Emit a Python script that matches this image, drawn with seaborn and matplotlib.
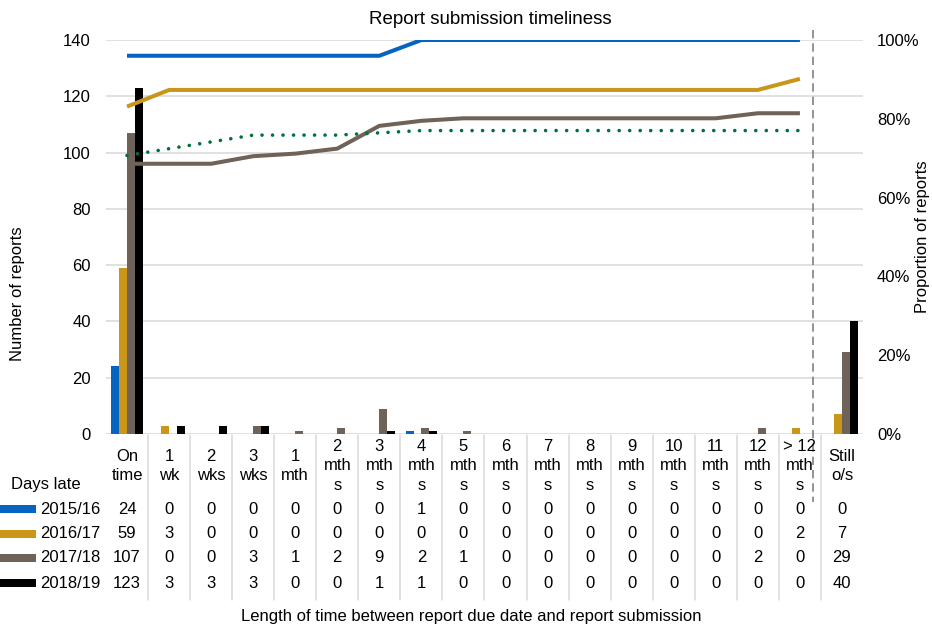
import numpy as np
import pandas as pd
import matplotlib
matplotlib.use("Agg")
import matplotlib.pyplot as plt
import matplotlib.transforms as mtrans
from matplotlib.patches import Rectangle
from matplotlib.lines import Line2D
from matplotlib.ticker import PercentFormatter
import seaborn as sns

# ---------------- data ----------------
categories = ["On\ntime", "1\nwk", "2\nwks", "3\nwks", "1\nmth",
              "2\nmth\ns", "3\nmth\ns", "4\nmth\ns", "5\nmth\ns", "6\nmth\ns",
              "7\nmth\ns", "8\nmth\ns", "9\nmth\ns", "10\nmth\ns", "11\nmth\ns",
              "12\nmth\ns", "> 12\nmth\ns", "Still\no/s"]
years = ["2015/16", "2016/17", "2017/18", "2018/19"]
counts_2015 = [24, 0, 0, 0, 0, 0, 0, 1, 0, 0, 0, 0, 0, 0, 0, 0, 0, 0]
counts_2016 = [59, 3, 0, 0, 0, 0, 0, 0, 0, 0, 0, 0, 0, 0, 0, 0, 2, 7]
counts_2017 = [107, 0, 0, 3, 1, 2, 9, 2, 1, 0, 0, 0, 0, 0, 0, 2, 0, 29]
counts_2018 = [123, 3, 3, 3, 0, 0, 1, 1, 0, 0, 0, 0, 0, 0, 0, 0, 0, 40]
all_counts = [counts_2015, counts_2016, counts_2017, counts_2018]

bar_colors = ["#0563C1", "#C9961A", "#6E6259", "#000000"]
line_colors = ["#0563C1", "#C9961A", "#6E6259", "#00703C"]

# ---------------- style ----------------
sns.set_theme(style="white")
plt.rcParams["font.family"] = ["Liberation Sans", "DejaVu Sans"]
plt.rcParams["text.color"] = "black"
FS = 12

W, H = 932, 626
fig = plt.figure(figsize=(W / 100, H / 100), dpi=100)

def fy(p):
    return 1 - p / H

ax_l, ax_r, ax_t, ax_b = 106, 863, 40, 434
ax = fig.add_axes([ax_l / W, fy(ax_b), (ax_r - ax_l) / W, (ax_b - ax_t) / H])

rows = []
for yr, cnts in zip(years, all_counts):
    for c, v in zip(categories, cnts):
        rows.append({"cat": c, "n": v, "year": yr})
df = pd.DataFrame(rows)

sns.barplot(data=df, x="cat", y="n", hue="year", order=categories,
            hue_order=years, palette=bar_colors, width=0.74, saturation=1,
            linewidth=0, legend=False, ax=ax)

ax.set_ylim(0, 140)
ax.set_yticks(np.arange(0, 141, 20))
ax.yaxis.grid(True, color="#d9d9d9", lw=1.1)
ax.set_axisbelow(True)
ax.set_xlabel("")
ax.set_ylabel("")
ax.set_xticks([])
for s in ax.spines.values():
    s.set_visible(False)
ax.tick_params(axis="y", length=0, pad=11, labelsize=FS, labelcolor="black")

# cumulative proportions (lines)
ax2 = ax.twinx()
n_line = len(categories) - 1
xpos = np.arange(n_line)
for i, (yr, cnts) in enumerate(zip(years, all_counts)):
    cnts = np.array(cnts)
    prop = np.cumsum(cnts[:n_line]) / cnts.sum()
    if i == 3:
        sns.lineplot(x=xpos, y=prop, ax=ax2, color=line_colors[i], lw=2.6,
                     linestyle=(0, (0.01, 2.9)), dash_capstyle="round")
    else:
        sns.lineplot(x=xpos, y=prop, ax=ax2, color=line_colors[i], lw=2.9,
                     solid_capstyle="butt")
ax2.set_ylim(0, 1)
ax2.set_yticks(np.arange(0, 1.01, 0.2))
ax2.yaxis.set_major_formatter(PercentFormatter(1.0, decimals=0))
ax2.tick_params(axis="y", length=0, pad=10, labelsize=FS, labelcolor="black")
for s in ax2.spines.values():
    s.set_visible(False)
ax2.set_ylabel("")
ax.set_xlim(-0.5, len(categories) - 0.5)
ax2.set_xlim(-0.5, len(categories) - 0.5)

# ---------------- table ----------------
tr = mtrans.blended_transform_factory(ax.transData, fig.transFigure)
grid_c = "#d9d9d9"
for b in np.arange(0.5, len(categories) - 1, 1.0):
    fig.add_artist(Line2D([b, b], [fy(435), fy(600)], transform=tr,
                          color=grid_c, lw=1.1))

for i, c in enumerate(categories):
    fig.text(i, fy(466), c, transform=tr, ha="center", va="center",
             fontsize=FS, linespacing=1.4)

row_y = [509, 534, 558, 583]
for r, (yr, cnts) in enumerate(zip(years, all_counts)):
    for i, v in enumerate(cnts):
        fig.text(i, fy(row_y[r]), str(v), transform=tr, ha="center",
                 va="center", fontsize=FS)
    fig.text(40 / W, fy(row_y[r]), yr, ha="left", va="center", fontsize=FS)
    fig.add_artist(Rectangle((0, fy(row_y[r] + 4)), 36 / W, 8 / H,
                             transform=fig.transFigure,
                             color=bar_colors[r], lw=0))

fig.text(46 / W, fy(484), "Days late", ha="center", va="center", fontsize=FS)

# dashed separator before "Still o/s"
fig.add_artist(Line2D([16.3, 16.3], [fy(30), fy(502)], transform=tr,
                      color="#808080", lw=1.2, linestyle=(0, (5, 3))))

# labels
fig.text(490 / W, fy(20), "Report submission timeliness", ha="center",
         va="center", fontsize=13.5)
fig.text(471 / W, fy(617), "Length of time between report due date and report submission",
         ha="center", va="center", fontsize=FS)
fig.text(18 / W, fy(294), "Number of reports", rotation=90, ha="center",
         va="center", fontsize=FS)
fig.text(923 / W, fy(237), "Proportion of reports", rotation=90, ha="center",
         va="center", fontsize=FS)

fig.savefig("out.png", dpi=100, facecolor="white")
